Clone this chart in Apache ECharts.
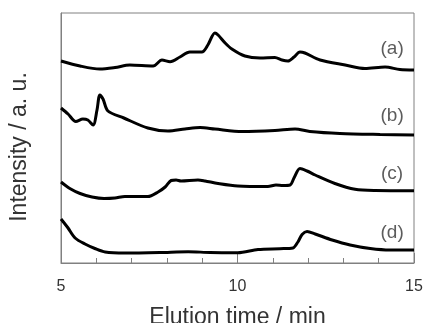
<!DOCTYPE html>
<html><head><meta charset="utf-8">
<script src="https://cdn.jsdelivr.net/npm/echarts@6/dist/echarts.min.js"></script>
<style>html,body{margin:0;padding:0;background:#fff}#c{width:425px;height:323px}</style>
</head><body><div id="c"></div>
<script>
const traceA = [[5.0,202],[5.54,197],[6.10,194],[6.53,195.5],[6.95,198],[7.61,197],[7.86,203],[8.09,201.3],[8.37,206],[8.65,211],[8.99,211],[9.16,218],[9.36,230],[9.45,228],[9.65,220],[9.84,214],[10.21,207],[10.64,205],[11.06,205.5],[11.26,203],[11.43,202],[11.60,206],[11.77,211],[11.91,210],[12.34,203],[13.05,198],[13.61,194.5],[14.18,196],[14.60,193.5],[15.0,193]];
const traceB = [[5.0,155],[5.2,149],[5.42,141.5],[5.62,144],[5.76,143],[5.91,138],[6.02,153],[6.10,168],[6.19,164],[6.33,152],[6.78,145],[7.46,135],[8.03,132],[8.51,134],[8.94,135.5],[9.36,134],[10.13,131.5],[11.06,132.5],[11.63,134],[12.05,131.5],[12.90,129.5],[14.04,128.5],[15.0,128]];
const traceC = [[5.0,81],[5.25,74.5],[5.54,69.5],[5.88,66],[6.22,64.5],[6.53,65],[6.81,66.5],[7.46,66.5],[7.75,71],[7.95,76],[8.12,82.5],[8.26,83],[8.40,82],[8.88,83],[9.08,82],[9.45,79.5],[10.01,77],[10.86,76.5],[11.09,78],[11.29,77.5],[11.49,78],[11.60,85],[11.77,94.5],[11.97,92],[12.20,88],[12.76,79.5],[13.33,73.7],[13.90,72.5],[15.0,72.3]];
const traceD = [[5.0,44],[5.20,35],[5.40,25],[5.68,19],[5.96,14.5],[6.25,11],[6.81,10],[7.80,10.5],[8.60,11.3],[9.22,10.5],[10.01,10.3],[10.58,13.5],[11.20,14.3],[11.57,15],[11.71,21],[11.83,28.5],[11.97,31.5],[12.20,29],[12.68,23],[13.19,18],[13.76,14.5],[14.32,13],[15.0,13]];
const traceLabels = ['(a)','(b)','(c)','(d)'];
const labelLevels = [215, 148, 90, 31];
const xTickLabels = [5, 10, 15];

const chart = echarts.init(document.getElementById('c'), null, {renderer:'canvas'});
const lineStyle = {color:'#000', width:3};
const mk = (d) => ({type:'line', data:d, showSymbol:false, smooth:0.3, lineStyle:lineStyle, silent:true});
const font = 'Liberation Sans';
chart.setOption({
  animation:false,
  grid:{left:61, right:11, top:13, bottom:60, show:true, borderColor:'#808080', borderWidth:1,
        containLabel:false, outerBoundsMode:'none'},
  xAxis:[{type:'value', min:5, max:15, interval:1,
    axisLine:{show:true, lineStyle:{color:'#808080'}},
    axisTick:{show:true, inside:true, length:5, lineStyle:{color:'#808080'}},
    splitLine:{show:false},
    axisLabel:{margin:16, fontSize:16, color:'#333', fontFamily:font,
      formatter:(v)=> xTickLabels.includes(v) ? String(v) : ''},
    name:'Elution time / min', nameLocation:'middle', nameGap:43,
    nameTextStyle:{fontSize:23, color:'#333', fontFamily:font}},
   {type:'value', min:5, max:15, interval:5, position:'bottom',
    axisLine:{show:false},
    axisTick:{show:true, inside:true, length:10, lineStyle:{color:'#808080'}},
    axisLabel:{show:false}, splitLine:{show:false}}],
  yAxis:{type:'value', min:0, max:250,
    axisLine:{show:true, lineStyle:{color:'#808080'}},
    axisTick:{show:false}, axisLabel:{show:false}, splitLine:{show:false},
    name:'Intensity / a. u.', nameLocation:'middle', nameGap:30,
    nameTextStyle:{fontSize:23, color:'#333', fontFamily:font, padding:[0,18,0,0]}},
  series:[mk(traceA), mk(traceB), mk(traceC), mk(traceD),
    {type:'scatter', data:labelLevels.map((v,i)=>[14.38, v - 1, traceLabels[i]]), symbolSize:0, silent:true,
     label:{show:true, position:'inside', formatter:(p)=>p.data[2], fontSize:19, color:'#333', fontFamily:font}}]
});
</script></body></html>
